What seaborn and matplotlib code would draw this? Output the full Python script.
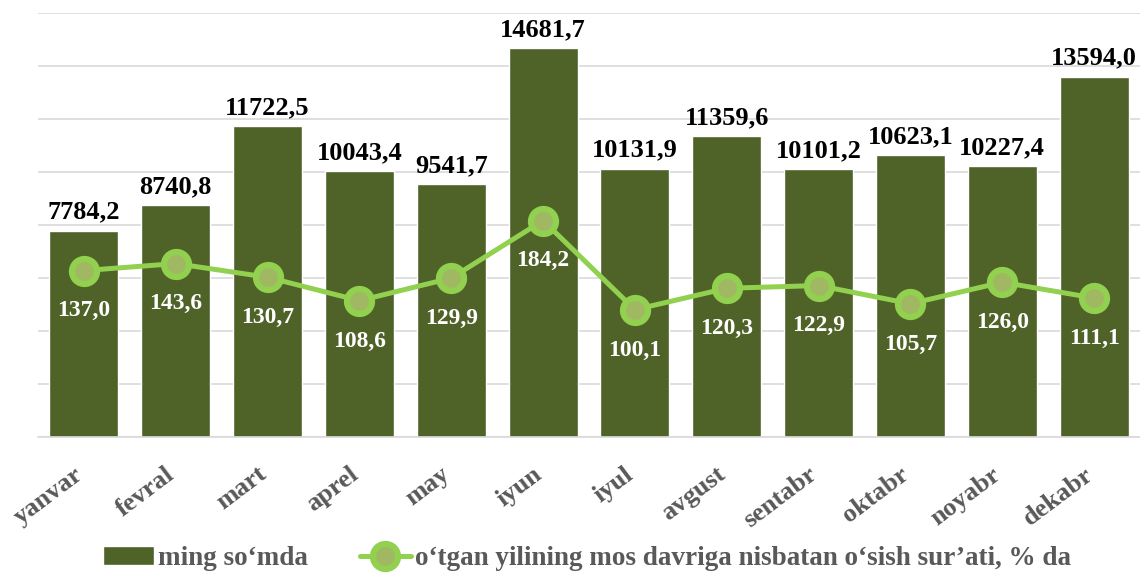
import numpy as np
import pandas as pd
import matplotlib.pyplot as plt
import matplotlib.transforms as mtransforms
import seaborn as sns

months = ['yanvar', 'fevral', 'mart', 'aprel', 'may', 'iyun',
          'iyul', 'avgust', 'sentabr', 'oktabr', 'noyabr', 'dekabr']
volume = [7784.2, 8740.8, 11722.5, 10043.4, 9541.7, 14681.7,
          10131.9, 11359.6, 10101.2, 10623.1, 10227.4, 13594.0]
growth = [137.0, 143.6, 130.7, 108.6, 129.9, 184.2,
          100.1, 120.3, 122.9, 105.7, 126.0, 111.1]

bar_name = 'ming so\u2018mda'
line_name = 'o\u2018tgan yilining mos davriga nisbatan o\u2018sish sur\u2019ati, % da'

BAR_C = '#4F6228'
LINE_C = '#92D050'
FACE_C = '#A0B862'
GREY = '#595959'

sns.set_theme(style='white')
plt.rcParams['font.family'] = ['Liberation Serif', 'DejaVu Serif']
plt.rcParams['font.weight'] = 'bold'


def fmt(v):
    return f'{v:.1f}'.replace('.', ',')


df = pd.DataFrame({'month': months, 'volume': volume, 'growth': growth})

fig = plt.figure(figsize=(11.4, 5.75), dpi=100)
ax = fig.add_axes([0.0333, 0.24, 0.9667, 0.7374])

sns.barplot(data=df, x='month', y='volume', color=BAR_C, saturation=1,
            width=0.75, ax=ax, label=bar_name, zorder=2)
ax.bar_label(ax.containers[0], labels=[fmt(v) for v in volume], padding=5,
             fontsize=19, fontweight='bold', color='black')
if ax.legend_ is not None:
    ax.legend_.remove()

ax.set_ylim(0, 16000)
ax.set_yticks(np.arange(0, 16001, 2000))
ax.set_yticklabels([])
ax.tick_params(axis='y', length=0)
ax.grid(axis='y', color='#D9D9D9', linewidth=1.2, zorder=0)
ax.set_axisbelow(True)
for s in ['left', 'right', 'top']:
    ax.spines[s].set_visible(False)
ax.spines['bottom'].set_color('#D9D9D9')
ax.spines['bottom'].set_linewidth(1.2)
ax.set_xlabel('')
ax.set_ylabel('')
ax.tick_params(axis='x', length=0, pad=25)
ax.set_xticks(range(len(months)))
ax.set_xticklabels(months, rotation=37, ha='right', va='center',
                   rotation_mode='anchor', fontsize=19, color=GREY,
                   fontweight='bold')
shift = mtransforms.ScaledTranslation(-4 / 100, 0, fig.dpi_scale_trans)
for lbl in ax.get_xticklabels():
    lbl.set_transform(lbl.get_transform() + shift)

ax2 = ax.twinx()
pos = np.arange(len(months))
sns.lineplot(x=pos, y=growth, ax=ax2, color=LINE_C, linewidth=3.6,
             marker='o', markersize=18, markerfacecolor=FACE_C,
             markeredgecolor=LINE_C, markeredgewidth=4.5, label=line_name,
             zorder=3)
ax2.set_ylim(-20, 380)
ax2.set_yticks([])
ax2.set_ylabel('')
for s in ax2.spines.values():
    s.set_visible(False)
for x, g in zip(pos, growth):
    ax2.annotate(fmt(g), (x, g), xytext=(0, -29), textcoords='offset points',
                 ha='center', va='center', fontsize=17, fontweight='bold',
                 color='white')
ax2.legend_.remove()
ax.set_xlim(-0.5, len(months) - 0.5)

h1, l1 = ax.get_legend_handles_labels()
h2, l2 = ax2.get_legend_handles_labels()
fig.legend(h1 + h2, l1 + l2, loc='lower center', bbox_to_anchor=(0.515, -0.036),
           ncol=2, frameon=False, labelcolor=GREY,
           handlelength=1.9, handletextpad=0.15, columnspacing=1.9,
           prop={'weight': 'bold', 'size': 19.5})

fig.savefig('out.png', dpi=100)
